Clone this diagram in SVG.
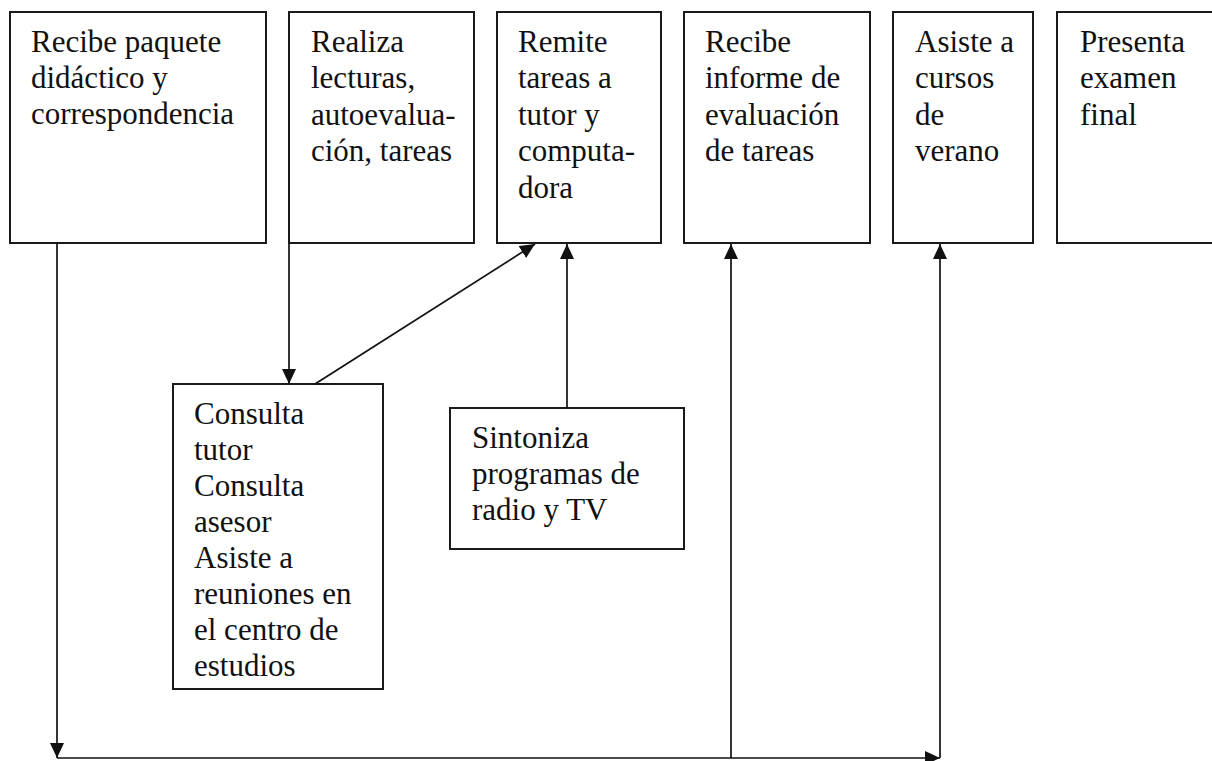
<svg xmlns="http://www.w3.org/2000/svg" width="1212" height="761" viewBox="0 0 1212 761">
<style>
.box{fill:#fff;stroke:#1a1a1a;stroke-width:2}
.t{font-family:"Liberation Serif","Times New Roman",serif;font-size:31px;fill:#111}
.c{fill:none;stroke:#111;stroke-width:1.7}
</style>
<defs>
<marker id="ah" viewBox="0 0 15 14" refX="15" refY="7" markerWidth="15" markerHeight="14" markerUnits="userSpaceOnUse" orient="auto">
<path d="M0,0 L15,7 L0,14 Z" fill="#111"/>
</marker>
</defs>
<rect width="1212" height="761" fill="#fff"/>
<g id="n1"><rect class="box" x="10" y="12" width="256" height="231"/>
<text class="t"><tspan x="31" y="52">Recibe paquete</tspan><tspan x="31" y="88">didáctico y</tspan><tspan x="31" y="124">correspondencia</tspan></text></g>
<g id="n2"><rect class="box" x="289" y="12" width="185" height="231"/>
<text class="t"><tspan x="311" y="52">Realiza</tspan><tspan x="311" y="88">lecturas,</tspan><tspan x="311" y="125">autoevalua-</tspan><tspan x="311" y="161">ción, tareas</tspan></text></g>
<g id="n3"><rect class="box" x="497" y="12" width="164" height="231"/>
<text class="t"><tspan x="518" y="52">Remite</tspan><tspan x="518" y="88">tareas a</tspan><tspan x="518" y="125">tutor y</tspan><tspan x="518" y="161">computa-</tspan><tspan x="518" y="198">dora</tspan></text></g>
<g id="n4"><rect class="box" x="684" y="12" width="186" height="231"/>
<text class="t"><tspan x="705" y="52">Recibe</tspan><tspan x="705" y="88">informe de</tspan><tspan x="705" y="125">evaluación</tspan><tspan x="705" y="161">de tareas</tspan></text></g>
<g id="n5"><rect class="box" x="893" y="12" width="140" height="231"/>
<text class="t"><tspan x="915" y="52">Asiste a</tspan><tspan x="915" y="88">cursos</tspan><tspan x="915" y="125">de</tspan><tspan x="915" y="161">verano</tspan></text></g>
<g id="n6"><rect class="box" x="1057" y="12" width="160" height="231"/>
<text class="t"><tspan x="1080" y="52">Presenta</tspan><tspan x="1080" y="88">examen</tspan><tspan x="1080" y="125">final</tspan></text></g>
<g id="n7"><rect class="box" x="173" y="384" width="210" height="305"/>
<text class="t"><tspan x="194" y="424">Consulta</tspan><tspan x="194" y="460">tutor</tspan><tspan x="194" y="496">Consulta</tspan><tspan x="194" y="532">asesor</tspan><tspan x="194" y="568">Asiste a</tspan><tspan x="194" y="604">reuniones en</tspan><tspan x="194" y="640">el centro de</tspan><tspan x="194" y="676">estudios</tspan></text></g>
<g id="n8"><rect class="box" x="450" y="408" width="234" height="141"/>
<text class="t"><tspan x="472" y="448">Sintoniza</tspan><tspan x="472" y="484">programas de</tspan><tspan x="472" y="520">radio y TV</tspan></text></g>
<g id="connectors">
<path class="c" d="M57,243 V758" marker-end="url(#ah)"/>
<path class="c" d="M57,758 H940" marker-end="url(#ah)"/>
<path class="c" d="M289,243 V384" marker-end="url(#ah)"/>
<path class="c" d="M315,384 L535,244" marker-end="url(#ah)"/>
<path class="c" d="M567,408 V244" marker-end="url(#ah)"/>
<path class="c" d="M731,758 V244" marker-end="url(#ah)"/>
<path class="c" d="M940,758 V244" marker-end="url(#ah)"/>
</g>
</svg>
